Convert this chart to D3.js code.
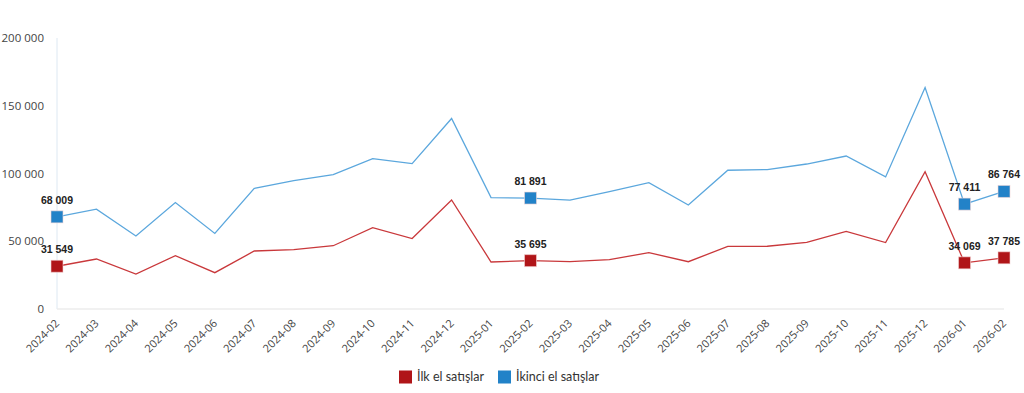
<!DOCTYPE html>
<html>
<head>
<meta charset="utf-8">
<script src="https://cdn.jsdelivr.net/npm/d3@7"></script>
<style>
  body { margin: 0; background: #fff; }
  svg { display: block; }
</style>
</head>
<body>
<div id="chart"></div>
<script>
const months = ['2024-02','2024-03','2024-04','2024-05','2024-06','2024-07','2024-08','2024-09','2024-10','2024-11','2024-12',
  '2025-01','2025-02','2025-03','2025-04','2025-05','2025-06','2025-07','2025-08','2025-09','2025-10','2025-11','2025-12',
  '2026-01','2026-02'];

// İlk el satışlar
const firstHand = [31549, 36900, 25800, 39400, 26800, 42800, 43800, 46700, 60000, 52000, 80500,
  34700, 35695, 34900, 36400, 41600, 34900, 46200, 46300, 49200, 57300, 49000, 101300,
  34069, 37785];

// İkinci el satışlar
const secondHand = [68009, 73700, 53900, 78600, 55800, 89000, 94800, 99100, 111000, 107300, 140600,
  82200, 81891, 80300, 86700, 93300, 76700, 102400, 102900, 107000, 112900, 97500, 163400,
  77411, 86764];

// points that carry a marker + label
const labelled = ['2024-02', '2025-02', '2026-01', '2026-02'];

const yTicks = [0, 50000, 100000, 150000, 200000];

const series = [
  { name: 'İlk el satışlar', values: firstHand, line: '#c9383b', marker: '#b01518' },
  { name: 'İkinci el satışlar', values: secondHand, line: '#5ba7dd', marker: '#2282c8' }
];

const width = 1024, height = 393;
const margin = { top: 38, right: 20, bottom: 84, left: 57 };

const svg = d3.select('#chart').append('svg')
  .attr('width', width)
  .attr('height', height);

const x = d3.scalePoint()
  .domain(months)
  .range([margin.left, 1004]);

const y = d3.scaleLinear()
  .domain([0, 200000])
  .range([height - margin.bottom, margin.top]);

const fmt = v => d3.format(',')(v).replace(/,/g, ' ');

// y axis line
svg.append('line')
  .attr('x1', x(months[0])).attr('x2', x(months[0]))
  .attr('y1', y(200000)).attr('y2', y(0))
  .attr('stroke', '#dde8f2').attr('stroke-width', 1);

// baseline
svg.append('line')
  .attr('x1', x(months[0])).attr('x2', x(months[months.length - 1]))
  .attr('y1', y(0)).attr('y2', y(0))
  .attr('stroke', '#ececec').attr('stroke-width', 1.5);

// y tick labels
svg.append('g')
  .selectAll('text')
  .data(yTicks)
  .enter().append('text')
  .attr('x', 44)
  .attr('y', d => y(d))
  .attr('dy', '0.35em')
  .attr('text-anchor', 'end')
  .attr('font-family', '"Open Sans", sans-serif')
  .attr('font-size', 11.5)
  .attr('fill', '#444')
  .text(d => fmt(d));

// x tick labels, rotated
svg.append('g')
  .selectAll('text')
  .data(months)
  .enter().append('text')
  .attr('transform', d => `translate(${x(d) + 3},${y(0) + 15}) rotate(-45)`)
  .attr('text-anchor', 'end')
  .attr('font-family', '"Open Sans", sans-serif')
  .attr('font-size', 11)
  .attr('fill', '#444')
  .text(d => d);

const line = d3.line()
  .x((d, i) => x(months[i]))
  .y(d => y(d));

series.forEach(s => {
  svg.append('path')
    .datum(s.values)
    .attr('fill', 'none')
    .attr('stroke', s.line)
    .attr('stroke-width', 1.3)
    .attr('d', line);
});

const ms = 12;
series.forEach(s => {
  const pts = months.map((m, i) => ({ m, v: s.values[i] })).filter(d => labelled.includes(d.m));
  const g = svg.append('g');
  g.selectAll('rect')
    .data(pts)
    .enter().append('rect')
    .attr('x', d => x(d.m) - ms / 2)
    .attr('y', d => y(d.v) - ms / 2)
    .attr('width', ms).attr('height', ms)
    .attr('fill', s.marker)
    .attr('stroke', '#f3d6d6')
    .attr('stroke-opacity', 0.6)
    .attr('stroke-width', 1);
  g.selectAll('text')
    .data(pts)
    .enter().append('text')
    .attr('x', d => x(d.m))
    .attr('y', d => y(d.v) - 13)
    .attr('text-anchor', 'middle')
    .attr('font-family', '"Liberation Sans", Arial, sans-serif')
    .attr('font-weight', 'bold')
    .attr('font-size', 10.5)
    .attr('fill', '#222')
    .text(d => fmt(d.v));
});

// legend
const legend = svg.append('g').attr('transform', 'translate(399,377)');
const legendX = [0, 99];
series.forEach((s, i) => {
  const lg = legend.append('g').attr('transform', `translate(${legendX[i]},0)`);
  lg.append('rect')
    .attr('x', 0).attr('y', -6.5)
    .attr('width', 13).attr('height', 13)
    .attr('fill', s.marker);
  lg.append('text')
    .attr('x', 18).attr('y', 0)
    .attr('dy', '0.35em')
    .attr('font-family', 'Lato, "Noto Sans", sans-serif')
    .attr('font-size', 12.5)
    .attr('fill', '#333')
    .text(s.name);
});
</script>
</body>
</html>
